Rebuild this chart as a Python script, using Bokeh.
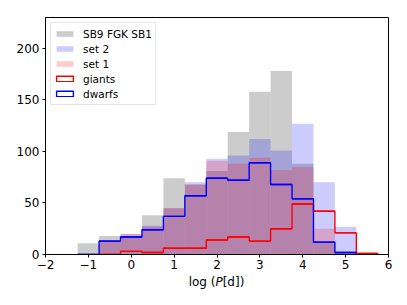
import numpy as np
from bokeh.plotting import figure
from bokeh.models import FixedTicker, Range1d, Legend, LegendItem, Div
from bokeh.layouts import column
from bokeh.embed import file_html
from bokeh.resources import INLINE

# ---- data ----
bin_edges = [-1.25, -0.75, -0.25, 0.25, 0.75, 1.25, 1.75, 2.25, 2.75, 3.25, 3.75, 4.25, 4.75, 5.25, 5.75]
sb9_counts = [11, 18, 17, 38, 74, 68, 81, 119, 158, 178, 88, 12, 2, 0]
set2_counts = [0, 14, 20, 28, 45, 70, 93, 96, 112, 101, 127, 70, 27, 0]
set1_counts = [0, 14, 20, 27, 45, 68, 91, 88, 94, 82, 85, 25, 2, 0]

giants_edges = [-0.75, -0.25, 0.25, 0.75, 1.25, 1.75, 2.25, 2.75, 3.25, 3.75, 4.25, 4.75, 5.25, 5.75]
giants_counts = [0, 3, 2, 6, 6, 14, 17, 13, 25, 49, 42, 21, 1]
dwarfs_edges = [-1.25, -0.75, -0.25, 0.25, 0.75, 1.25, 1.75, 2.25, 2.75, 3.25, 3.75, 4.25, 4.75, 5.25]
dwarfs_counts = [0, 13, 17, 24, 37, 57, 74, 72, 89, 68, 54, 12, 2]

x_ticks = [-2, -1, 0, 1, 2, 3, 4, 5, 6]
y_ticks = [0, 50, 100, 150, 200]
x_label_html = "log (<i>P</i>[d])"


def step_outline(edges, counts):
    xs, ys = [edges[0]], [0]
    for i, c in enumerate(counts):
        xs += [edges[i], edges[i + 1]]
        ys += [c, c]
    xs.append(edges[-1])
    ys.append(0)
    return xs, ys


FONT = "DejaVu Sans"
BL, FW, BT, FH, BB = 45, 343, 17, 237, 21

p = figure(frame_width=FW, frame_height=FH, output_backend="svg", toolbar_location=None,
           x_range=Range1d(-2, 6), y_range=Range1d(0, 230),
           min_border_left=BL, min_border_right=11, min_border_top=BT, min_border_bottom=BB,
           background_fill_color="white", border_fill_color="white")
p.grid.visible = False
p.outline_line_color = "black"
p.outline_line_width = 1

left = bin_edges[:-1]
right = bin_edges[1:]
r_sb9 = p.quad(left=left, right=right, top=sb9_counts, bottom=0,
               fill_color="gray", fill_alpha=0.4, line_color=None)
r_set2 = p.quad(left=left, right=right, top=set2_counts, bottom=0,
                fill_color="blue", fill_alpha=0.2, line_color=None)
r_set1 = p.quad(left=left, right=right, top=set1_counts, bottom=0,
                fill_color="red", fill_alpha=0.2, line_color=None)

gx, gy = step_outline(giants_edges, giants_counts)
dx, dy = step_outline(dwarfs_edges, dwarfs_counts)
p.line(gx, gy, line_color="red", line_width=1.4)
p.line(dx, dy, line_color="blue", line_width=1.4)

# legend proxies: zero-height boxes on the bin tops (coincide with the step lines)
r_giants_leg = p.quad(left=giants_edges[:-1], right=giants_edges[1:], top=giants_counts,
                      bottom=giants_counts, fill_alpha=0, line_color="red", line_width=1.4)
r_dwarfs_leg = p.quad(left=dwarfs_edges[:-1], right=dwarfs_edges[1:], top=dwarfs_counts,
                      bottom=dwarfs_counts, fill_alpha=0, line_color="blue", line_width=1.4)

legend = Legend(items=[
    LegendItem(label="SB9 FGK SB1", renderers=[r_sb9]),
    LegendItem(label="set 2", renderers=[r_set2]),
    LegendItem(label="set 1", renderers=[r_set1]),
    LegendItem(label="giants", renderers=[r_giants_leg]),
    LegendItem(label="dwarfs", renderers=[r_dwarfs_leg]),
], location="top_left")
legend.margin = 5
legend.padding = 3
legend.spacing = 0
legend.label_height = 15
legend.glyph_height = 7
legend.glyph_width = 21
legend.label_standoff = 8
legend.label_text_font = FONT
legend.label_text_font_size = "10.5px"
legend.label_text_color = "black"
legend.border_line_color = "#cccccc"
legend.border_line_width = 1
legend.background_fill_alpha = 0.8
p.add_layout(legend)

# axes
p.xaxis.ticker = FixedTicker(ticks=x_ticks)
p.yaxis.ticker = FixedTicker(ticks=y_ticks)
p.xaxis.major_label_overrides = {t: (str(t).replace("-", "\u2212")) for t in x_ticks}
for ax in (p.xaxis, p.yaxis):
    ax.major_label_text_font = FONT
    ax.major_label_text_font_size = "12px"
    ax.major_label_text_color = "black"
    ax.major_tick_in = 0
    ax.major_tick_out = 3
    ax.minor_tick_in = 0
    ax.minor_tick_out = 0
    ax.axis_line_color = "black"
    ax.major_tick_line_color = "black"
p.xaxis.major_label_standoff = 2
p.yaxis.major_label_standoff = 3

# x-axis label (italic P) as real HTML text under the figure
xlabel = Div(text=x_label_html, width=FW, height=16, margin=(0, 0, 0, BL),
             styles={"font-family": FONT, "font-size": "12px", "text-align": "center",
                     "line-height": "14px", "color": "black"})

layout = column(p, xlabel, spacing=0)
open("out.html", "w").write(file_html(layout, INLINE))
